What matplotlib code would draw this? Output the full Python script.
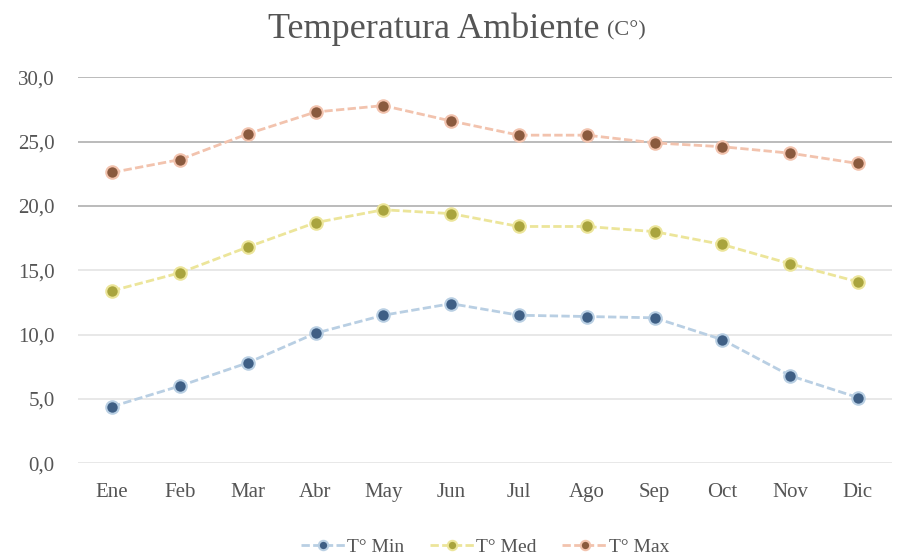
import numpy as np
import matplotlib.pyplot as plt

plt.rcParams['font.family'] = ['Liberation Serif', 'DejaVu Serif']

# Datos
meses = ['Ene', 'Feb', 'Mar', 'Abr', 'May', 'Jun', 'Jul', 'Ago', 'Sep', 'Oct', 'Nov', 'Dic']
t_min = [4.4, 6.0, 7.8, 10.1, 11.5, 12.4, 11.5, 11.4, 11.3, 9.6, 6.8, 5.1]
t_med = [13.4, 14.8, 16.8, 18.7, 19.7, 19.4, 18.4, 18.4, 18.0, 17.0, 15.5, 14.1]
t_max = [22.6, 23.6, 25.6, 27.3, 27.8, 26.6, 25.5, 25.5, 24.9, 24.6, 24.1, 23.3]
etiquetas = ['T° Min', 'T° Med', 'T° Max']
ticks_y = [0, 5, 10, 15, 20, 25, 30]

estilos = [
    ('#b9cfe3', '#3f5f85'),
    ('#ece59a', '#a9a43e'),
    ('#f2c3ae', '#8a5a3e'),
]

fig = plt.figure(figsize=(8.99, 5.56), dpi=100)
ax = fig.add_axes([0.087, 0.167, 0.905, 0.694])

x = np.arange(len(meses))
for serie, lab, (c_linea, c_marca) in zip([t_min, t_med, t_max], etiquetas, estilos):
    ax.plot(x, serie, color=c_linea, linewidth=2.0, linestyle=(0, (3, 1.2)),
            marker='o', markersize=9, markerfacecolor=c_marca,
            markeredgecolor=c_linea, markeredgewidth=1.5, label=lab, zorder=3)

ax.set_xlim(-0.5, len(meses) - 0.5)
ax.set_ylim(0, 30)
ax.set_yticks(ticks_y)
ax.set_yticklabels([f'{v:.1f}'.replace('.', ',') for v in ticks_y])
ax.set_xticks(x)
ax.set_xticklabels(meses)
ax.tick_params(axis='both', length=0, labelsize=15, labelcolor='#555555')
ax.tick_params(axis='y', pad=17)
ax.tick_params(axis='x', pad=14)

ax.grid(axis='y', linewidth=1.3)
for v, gl in zip(ticks_y, ax.get_ygridlines()):
    gl.set_color('#b5b5b5' if v >= 20 else '#e6e6e6')
ax.set_axisbelow(True)
for s in ax.spines.values():
    s.set_visible(False)

fig.text(0.667, 0.948, 'Temperatura Ambiente', fontsize=26, color='#555555',
         ha='right', va='center')
fig.text(0.675, 0.944, '(C°)', fontsize=16, color='#555555', ha='left', va='center')

ax.legend(loc='upper center', bbox_to_anchor=(0.5, -0.15), ncol=3, frameon=False,
          fontsize=14, handlelength=2.3, handletextpad=0.1, columnspacing=1.3,
          labelcolor='#555555', markerscale=0.75)

plt.savefig('out.png')
